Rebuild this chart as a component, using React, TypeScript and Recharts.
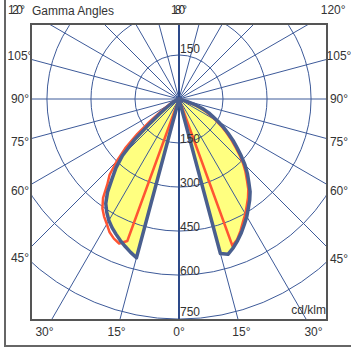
import { PolarAngleAxis, PolarGrid, PolarRadiusAxis, Radar, RadarChart } from 'recharts'

// gamma angles (deg) sampled on both half planes
const GAMMA = [
  0, 2.5, 5, 7.5, 10, 12.5, 15, 17.5, 20, 22.5, 25, 27.5, 30, 32.5, 35, 37.5, 40, 42.5, 45, 47.5, 50,
  52.5, 55, 57.5, 60, 62.5, 65, 67.5, 70, 72.5, 75, 77.5, 80, 82.5, 85, 87.5, 90,
]
// cd/klm, blue curve (C0-C180)
const BLUE_RIGHT = [
  0, 0, 0, 0, 0, 0, 545, 555, 540, 522, 503, 482, 462, 440, 420, 398, 370, 345, 318, 288, 258, 232,
  205, 180, 155, 130, 112, 90, 62, 30, 0, 0, 0, 0, 0, 0, 0,
]
const BLUE_LEFT = [
  0, 0, 0, 0, 0, 0, 560, 548, 535, 522, 508, 494, 478, 458, 435, 400, 355, 318, 272, 205, 128, 85,
  55, 38, 28, 20, 12, 5, 0, 0, 0, 0, 0, 0, 0, 0, 0,
]
// cd/klm, red curve (C90-C270)
const RED_RIGHT = [
  0, 0, 0, 0, 0, 0, 0, 0, 532, 518, 496, 472, 452, 430, 410, 388, 360, 335, 308, 278, 248, 222, 195,
  170, 145, 120, 100, 78, 50, 20, 0, 0, 0, 0, 0, 0, 0,
]
const RED_LEFT = [
  0, 0, 0, 0, 0, 0, 0, 0, 515, 533, 525, 512, 492, 475, 455, 425, 380, 350, 300, 248, 185, 125, 80,
  55, 38, 25, 15, 6, 0, 0, 0, 0, 0, 0, 0, 0, 0,
]

const RADIUS_TICKS = [150, 300, 450, 600, 750]
const GRID_ANGLES = [0, 15, 30, 45, 60, 75, 90, 105, 120, 135, 150, 165, 180, 195, 210, 225, 240, 255, 270, 285, 300, 315, 330, 345]
const ANGLE_LABELS = [0, 15, 30, 45, 60, 75, 90, 105, 120, 180]

// a = gamma on the right half, 360 - gamma on the left half
const data = [
  ...GAMMA.map((g, i) => ({ a: g, blue: BLUE_RIGHT[i], red: RED_RIGHT[i] })),
  ...GAMMA.map((g, i) => ({ a: 360 - g, blue: BLUE_LEFT[i], red: RED_LEFT[i] }))
    .filter((d) => d.a < 360)
    .reverse(),
]

const BOX_X = 31
const BOX_Y = 24
const BOX = 296
const CX = 148
const CY = 75
const OUTER = 270
const RMAX = 920 // 750 cd/klm sits at 220px

const FONT = '"Liberation Sans", Arial, sans-serif'
const TEXT = '#333'
const GRID = '#3d5a99'

function labelPos(g: number, side: number) {
  const th = (g * Math.PI) / 180
  const ux = side * Math.sin(th)
  const uy = Math.cos(th)
  let t = Infinity
  if (ux > 1e-9) t = Math.min(t, 160 / ux)
  if (ux < -1e-9) t = Math.min(t, -159 / ux)
  if (uy > 1e-9) t = Math.min(t, 233 / uy)
  if (uy < -1e-9) t = Math.min(t, -89 / uy)
  return { x: BOX_X + CX + ux * t, y: BOX_Y + CY + uy * t }
}

type Lbl = { key: string; text: string; x: number; y: number; anchor: string; len?: number }
const labels: Lbl[] = []
ANGLE_LABELS.forEach((g) => {
  const sides = g === 0 || g === 180 ? [1] : [-1, 1]
  sides.forEach((s) => {
    const p = labelPos(g, s)
    const lbl: Lbl = { key: `${g}_${s}`, text: `${g}°`, x: p.x, y: p.y, anchor: 'middle' }
    // the top corner label on the left is squeezed in front of the title
    if (g === 120 && s < 0) {
      lbl.x = BOX_X - 6
      lbl.anchor = 'end'
      lbl.len = 17
    }
    if (g === 180) lbl.len = 16
    labels.push(lbl)
  })
})

const RadiusTick = (props: any) => {
  const { x, y, payload } = props
  const down = Math.min(y, BOX - 4)
  const up = 2 * CY - y - 2
  return (
    <g>
      <text x={x + 1} y={down} fontSize={12} fontFamily={FONT} fill={TEXT}>
        {payload.value}
      </text>
      {up > 12 && (
        <text x={x + 1} y={up} fontSize={12} fontFamily={FONT} fill={TEXT}>
          {payload.value}
        </text>
      )}
    </g>
  )
}

export default function App() {
  const gridRadii = RADIUS_TICKS.map((v) => (v / RMAX) * OUTER)
  const gridAngles = GRID_ANGLES.map((a) => a - 90)
  return (
    <div style={{ position: 'absolute', left: 0, top: 0, width: 351, height: 349, background: '#fff', fontFamily: FONT }}>
      <svg width={351} height={349} style={{ position: 'absolute', left: 0, top: 0 }}>
        <line x1={5} y1={0} x2={5} y2={346} stroke="#666" strokeWidth={2} />
        <line x1={4} y1={346} x2={351} y2={346} stroke="#666" strokeWidth={2} />
        <text x={32} y={15} fontSize={12} fontFamily={FONT} fill={TEXT}>
          Gamma Angles
        </text>
        {labels.map((l) => (
          <text
            key={l.key}
            x={l.x}
            y={l.y + 4}
            textAnchor={l.anchor}
            fontSize={12}
            fontFamily={FONT}
            fill={TEXT}
            textLength={l.len}
            lengthAdjust={l.len ? 'spacing' : undefined}
          >
            {l.text}
          </text>
        ))}
      </svg>
      <div style={{ position: 'absolute', left: BOX_X, top: BOX_Y, width: BOX, height: BOX, overflow: 'hidden' }}>
        <RadarChart
          width={BOX}
          height={BOX}
          data={data}
          cx={CX}
          cy={CY}
          innerRadius={0}
          outerRadius={OUTER}
          startAngle={-90}
          endAngle={270}
          margin={{ top: 0, right: 0, bottom: 0, left: 0 }}
        >
          <PolarAngleAxis dataKey="a" type="number" domain={[0, 360]} tick={false} axisLine={false} tickLine={false} />
          <Radar
            dataKey="blue"
            stroke="none"
            fill="#ffff80"
            fillOpacity={1}
            isAnimationActive={false}
            zIndex={100}
          />
          <PolarGrid
            gridType="circle"
            polarAngles={gridAngles}
            polarRadius={gridRadii}
            stroke={GRID}
            strokeWidth={1}
            zIndex={150}
          />
          <PolarGrid
            gridType="circle"
            polarAngles={[-90, 90]}
            polarRadius={[]}
            stroke="#2d4a8a"
            strokeWidth={2}
            zIndex={160}
          />
          <Radar
            dataKey="red"
            stroke="#ff5533"
            strokeWidth={2.5}
            fill="none"
            fillOpacity={0}
            strokeLinejoin="round"
            isAnimationActive={false}
            zIndex={200}
          />
          <Radar
            dataKey="blue"
            stroke="#4a5f8e"
            strokeWidth={3.5}
            fill="none"
            fillOpacity={0}
            strokeLinejoin="round"
            isAnimationActive={false}
            zIndex={300}
          />
          <PolarRadiusAxis
            angle={-90}
            type="number"
            domain={[0, RMAX]}
            ticks={RADIUS_TICKS}
            axisLine={false}
            tickLine={false}
            tick={RadiusTick}
            allowDataOverflow
            zIndex={500}
          />
        </RadarChart>
      </div>
      <div
        style={{
          position: 'absolute',
          left: BOX_X - 1,
          top: BOX_Y - 1,
          width: BOX + 2,
          height: BOX + 2,
          boxSizing: 'border-box',
          border: '2px solid #555',
          pointerEvents: 'none',
        }}
      />
      <div
        style={{
          position: 'absolute',
          right: 351 - (BOX_X + BOX) + 1,
          top: BOX_Y + BOX - 17,
          fontSize: 12,
          color: TEXT,
          lineHeight: '14px',
        }}
      >
        cd/klm
      </div>
    </div>
  )
}
